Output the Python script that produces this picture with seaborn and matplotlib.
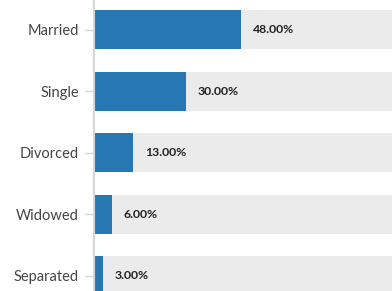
import pandas as pd
import matplotlib
matplotlib.use("Agg")
import matplotlib.pyplot as plt
import seaborn as sns

# marital status shares (percent)
categories = ['Married', 'Single', 'Divorced', 'Widowed', 'Separated']
shares = [48.0, 30.0, 13.0, 6.0, 3.0]
full = [100.0] * len(categories)

df = pd.DataFrame({'status': categories, 'share': shares, 'full': full})

sns.set_theme(style='white')
plt.rcParams['font.family'] = ['Lato', 'DejaVu Sans']

fig = plt.figure(figsize=(3.92, 2.91), dpi=100)
ax = fig.add_axes([93.5 / 392, 0, 1 - 93.5 / 392, 1])

# grey track behind each bar
sns.barplot(data=df, y='status', x='full', orient='h', color='#ebebeb',
            width=0.634, ax=ax, saturation=1, linewidth=0)
sns.barplot(data=df, y='status', x='share', orient='h', color='#2778b2',
            width=0.634, ax=ax, saturation=1, linewidth=0)

for i, v in enumerate(shares):
    ax.text(v + 3.9, i, f'{v:.2f}%', va='center', ha='left',
            fontsize=8.8, fontweight='bold', color='#222222')

ax.set_xlim(0, (392 - 93.5) / 3.07)
ax.set_ylim(4.25, -0.48)
ax.set_xlabel('')
ax.set_ylabel('')
ax.set_xticks([])

for side in ['top', 'right', 'bottom']:
    ax.spines[side].set_visible(False)
ax.spines['left'].set_color('#d6d6d6')
ax.spines['left'].set_linewidth(1.5)
ax.tick_params(axis='y', length=6.5, width=1, color='#d6d6d6', pad=4,
               labelsize=10.5, labelcolor='#444444', left=True)

fig.savefig('out.png', dpi=100)
